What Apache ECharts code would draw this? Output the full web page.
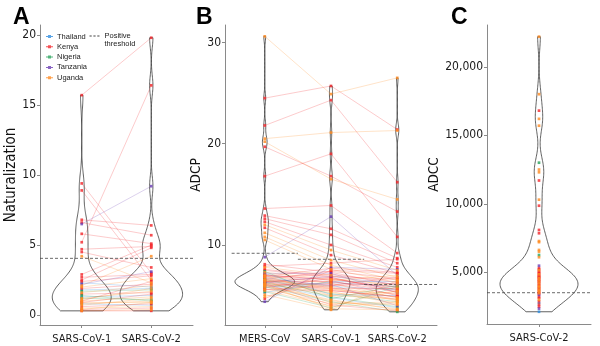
<!DOCTYPE html>
<html>
<head>
<meta charset="utf-8">
<script src="https://cdn.jsdelivr.net/npm/echarts@6/dist/echarts.min.js"></script>
<style>
html, body { margin: 0; padding: 0; background: #fff; }
#main { width: 600px; height: 346px; }
</style>
</head>
<body>
<div id="main"></div>
<script>
const countries = ['Thailand', 'Kenya', 'Nigeria', 'Tanzania', 'Uganda'];
const countryColors = ['#2f8de0', '#f2262a', '#27a25a', '#6b3db4', '#ff8a1f'];
const codeIdx = {T: 0, K: 1, N: 2, Z: 3, U: 4};

// panel A: neutralization, paired SARS-CoV-1 / SARS-CoV-2
const neutCats = ['SARS-CoV-1', 'SARS-CoV-2'];
const neutTicks = [0, 5, 10, 15, 20];
const neutThreshold = 4.05;
const neutCountry = ['K','K','Z','K','K','K','K','K','K','K','U','K','K','U','Z','T','K','U','K','T','N','U','K','T','U','N','K','U','U','K','U','T','U','K','U','K','U','U','K','U','K','N'];
const neutCov1 = [15.7,5.2,6.5,9.4,8.9,6.8,6.6,5.8,4.7,4.5,4.2,2.9,2.5,2.1,2.2,2.3,2.4,2.0,1.9,1.8,1.7,1.6,1.5,1.3,1.2,1.2,1.0,1.0,0.9,0.9,0.8,0.8,0.7,0.6,0.5,0.4,0.4,0.3,0.3,1.1,2.7,1.4];
const neutCov2 = [19.8,16.4,9.2,3.0,2.5,6.4,5.7,5.1,4.9,3.4,2.3,5.0,4.8,4.2,3.1,2.0,2.8,2.6,2.2,1.9,1.8,2.1,1.6,1.4,1.7,1.1,2.4,1.3,0.9,1.5,1.0,0.7,1.2,0.8,0.6,0.5,0.9,0.4,0.3,1.9,2.9,1.0];

// panel B: ADCP, MERS / SARS-1 / SARS-2
const adcpCats = ['MERS-CoV', 'SARS-CoV-1', 'SARS-CoV-2'];
const adcpTicks = [10, 20, 30];
const adcpThreshold = [9.18, 8.59, 6.1];
const adcpCountry = ['U','K','K','U','U','K','K','K','Z','K','K','K','U','K','U','U','U',
  'K','U','K','K','U','Z','K','K','U','T','K','K','N','U','K','K','U','Z','K','U','T','K','U','N','K','U','K','U','N','T','U','U','K','Z','K',
  'U','K','U','K','N','U','K','T','U','K','U','K','T','K','U','N','U','K','Z','U'];
const adcpMers = [30.6,24.5,21.8,20.5,20.2,19.7,16.8,13.6,8.8,12.9,12.6,12.3,12.0,11.7,11.2,10.8,10.5,
  8.1,7.8,7.6,7.5,7.3,7.2,7.1,7.0,6.9,6.8,6.7,6.6,6.6,6.5,6.4,6.4,6.3,6.3,6.2,6.2,6.1,6.0,6.0,5.9,5.8,5.7,5.6,5.5,5.4,5.3,5.1,4.9,4.7,4.4,7.9,
  6.5,6.8,6.1,7.0,6.3,5.9,6.6,7.2,6.0,6.4,6.7,6.2,5.8,6.9,6.5,7.4,6.1,5.6,6.3,7.0];
const adcpSars1 = [24.9,25.7,24.3,21.1,16.5,16.8,19.0,13.9,12.8,11.6,11.0,10.0,9.5,9.0,8.5,8.0,7.6,
  7.3,7.0,6.9,6.8,6.6,7.2,6.5,6.3,6.2,5.9,6.0,5.8,5.2,5.6,6.4,5.5,5.4,6.1,5.7,5.0,4.8,6.2,4.6,4.4,6.7,4.2,6.0,4.0,3.8,6.4,3.6,6.5,7.5,7.8,8.2,
  4.3,7.1,5.3,6.6,4.9,3.9,7.4,5.1,4.5,6.8,5.7,4.1,6.3,7.7,5.9,4.7,3.7,5.5,6.9,5.0];
const adcpSars2 = [26.5,21.4,16.2,21.3,14.5,13.3,10.8,9.2,7.0,8.7,8.2,7.8,7.5,7.2,6.8,6.5,6.3,
  6.0,5.8,6.6,5.5,6.1,5.3,5.0,5.9,4.8,5.6,6.8,4.6,4.4,5.2,5.4,4.9,4.2,4.0,5.7,4.7,3.8,5.1,3.6,3.4,5.6,4.4,6.2,5.5,5.9,6.4,6.5,7.0,7.2,7.6,8.6,
  4.1,6.3,4.6,5.8,3.9,4.3,6.7,5.0,3.7,5.3,4.5,3.5,5.9,7.3,4.8,6.0,3.6,4.9,6.1,5.4];

// panel C: ADCC, SARS-CoV-2 only
const adccCats = ['SARS-CoV-2'];
const adccTicks = [5000, 10000, 15000, 20000];
const adccThreshold = 3510;
const adccCountry = ['U','U','K','U','U','N','U','U','K','U','K','K','K','U','U','U','U','N','U',
  'Z','K','K','U','K','K','K','U','K','K','K','K','U','K','K','U','K','K','U','K','K','U','K','U','K','K','U','U','K','K','U','K','Z','K','K','U','K','T','K','K','Z','T'];
const adccValues = [22200,18000,16800,16200,15700,13000,12500,12300,11700,10300,9860,8090,7850,7280,7200,6630,6510,6260,6100,
  5480,5300,5200,5150,5040,4980,4900,4850,4780,4700,4680,4600,4580,4500,4450,4400,4330,4300,4200,4150,4080,4000,
  3950,3900,3830,3750,3710,3650,3590,3500,3470,3400,3350,3200,3120,3000,2880,2760,2640,2490,2350,2120];

const numFont = "'DejaVu Sans Condensed', 'Liberation Sans', sans-serif";

function density(vals) {
  const n = vals.length;
  const s = [...vals].sort((a, b) => a - b);
  const mean = s.reduce((a, b) => a + b, 0) / n;
  const sd = Math.sqrt(s.reduce((a, b) => a + (b - mean) ** 2, 0) / (n - 1));
  const q = p => { const h = (n - 1) * p, l = Math.floor(h); return s[l] + (h - l) * ((s[l + 1] ?? s[l]) - s[l]); };
  const bw = 0.9 * Math.min(sd, (q(0.75) - q(0.25)) / 1.34) * Math.pow(n, -0.2);
  const pts = [];
  for (let i = 0; i <= 200; i++) {
    const y = s[0] + (s[n - 1] - s[0]) * i / 200;
    let d = 0;
    for (const v of s) d += Math.exp(-0.5 * ((y - v) / bw) ** 2);
    pts.push([y, d / (n * bw * Math.sqrt(2 * Math.PI))]);
  }
  return pts;
}

function violinSeries(gi, x, pts, maxD) {
  return {
    type: 'custom', xAxisIndex: gi, yAxisIndex: gi, silent: true, z: 1,
    data: [[x, pts[0][0]]],
    renderItem: (params, api) => {
      const left = pts.map(p => api.coord([x - 0.45 * p[1] / maxD, p[0]]));
      const right = pts.map(p => api.coord([x + 0.45 * p[1] / maxD, p[0]])).reverse();
      return {type: 'polygon', shape: {points: left.concat(right)},
        style: {fill: 'none', stroke: '#3a3a3a', lineWidth: 0.8}};
    }
  };
}

function panelSeries(gi, groups, codes) {
  let out = [];
  let dens = groups.map(g => density(g));
  let maxD = Math.max(...dens.map(d => Math.max(...d.map(p => p[1]))));
  dens.forEach((d, i) => out.push(violinSeries(gi, i + 1, d, maxD)));
  if (groups.length > 1) {
    out.push({
      type: 'lines', coordinateSystem: 'cartesian2d', xAxisIndex: gi, yAxisIndex: gi,
      polyline: true, silent: true, z: 2,
      data: codes.map((c, k) => ({
        coords: groups.map((g, i) => [i + 1, g[k]]),
        lineStyle: {color: countryColors[codeIdx[c]], width: 0.8, opacity: 0.3}
      }))
    });
  }
  countries.forEach((name, ci) => {
    let pts = [];
    codes.forEach((c, k) => {
      if (codeIdx[c] === ci) groups.forEach((g, i) => pts.push([i + 1, g[k]]));
    });
    out.push({type: 'scatter', name: name, xAxisIndex: gi, yAxisIndex: gi, z: 3,
      symbol: 'rect', symbolSize: 2.7, itemStyle: {color: countryColors[ci]},
      silent: true, data: pts});
  });
  return out;
}

function thresholdSeries(gi, x0, x1, y) {
  return {type: 'line', name: 'Positive threshold', xAxisIndex: gi, yAxisIndex: gi,
    symbol: 'none', silent: true, z: 2, color: '#444',
    lineStyle: {color: '#444', width: 0.8, type: [3, 2]},
    data: [[x0, y], [x1, y]]};
}

function xAxisFor(gi, cats) {
  return {type: 'value', gridIndex: gi, min: 0.4, max: cats.length + 0.6,
    splitLine: {show: false},
    axisLine: {show: true, onZero: false, lineStyle: {color: '#8a8a8a', width: 1}},
    axisTick: {show: true, length: 3, customValues: cats.map((c, i) => i + 1), lineStyle: {color: '#8a8a8a'}},
    axisLabel: {customValues: cats.map((c, i) => i + 1), formatter: v => cats[Math.round(v) - 1],
      showMinLabel: true, showMaxLabel: true, hideOverlap: false,
      margin: 9, fontSize: 11, color: '#1a1a1a', fontFamily: numFont}};
}

function yAxisFor(gi, min, max, ticks, name, nameGap, nameSize, fmt) {
  return {type: 'value', gridIndex: gi, min: min, max: max,
    name: name, nameLocation: 'middle', nameGap: nameGap,
    nameTextStyle: {fontSize: nameSize, color: '#111', fontFamily: numFont},
    splitLine: {show: false},
    axisLine: {show: true, onZero: false, lineStyle: {color: '#8a8a8a', width: 1}},
    axisTick: {show: true, length: 3, customValues: ticks, lineStyle: {color: '#8a8a8a'}},
    axisLabel: {customValues: ticks, formatter: fmt, margin: 4, fontSize: 12,
      showMinLabel: true, showMaxLabel: true,
      color: '#1a1a1a', fontFamily: numFont}};
}

const pointIcon = 'path://M0,0h0.01v0.01h-0.01zM7,7h0.01v0.01h-0.01zM0,3H2V2H5V3H7V4H5V5H2V4H0Z';
const dashIcon = 'path://M0,0h0.01v0.01h-0.01zM10,16h0.01v0.01h-0.01zM0,3.5h2.2v1h-2.2zM3.9,3.5h2.2v1h-2.2zM7.8,3.5h2.2v1h-2.2z';

let series = [].concat(
  panelSeries(0, [neutCov1, neutCov2], neutCountry),
  [thresholdSeries(0, 0.4, 2.6, neutThreshold)],
  panelSeries(1, [adcpMers, adcpSars1, adcpSars2], adcpCountry),
  [thresholdSeries(1, 0.5, 1.5, adcpThreshold[0]),
   thresholdSeries(1, 1.5, 2.5, adcpThreshold[1]),
   thresholdSeries(1, 2.5, 3.6, adcpThreshold[2])],
  panelSeries(2, [adccValues], adccCountry),
  [thresholdSeries(2, 0.4, 1.6, adccThreshold)]
);

let option = {
  animation: false,
  backgroundColor: '#fff',
  title: [
    {text: 'A', left: 8, top: 1, textStyle: {fontSize: 23, fontWeight: 'bold', color: '#000', fontFamily: 'Liberation Sans'}},
    {text: 'B', left: 191, top: 1, textStyle: {fontSize: 23, fontWeight: 'bold', color: '#000', fontFamily: 'Liberation Sans'}},
    {text: 'C', left: 446, top: 1, textStyle: {fontSize: 23, fontWeight: 'bold', color: '#000', fontFamily: 'Liberation Sans'}}
  ],
  legend: [
    {data: countries.map(c => ({name: c, icon: pointIcon})), orient: 'vertical',
      left: 46, top: 32.5, padding: 0, itemWidth: 7, itemHeight: 7, itemGap: 2.3,
      selectedMode: false,
      textStyle: {fontSize: 7.5, color: '#222', fontFamily: 'Liberation Sans', padding: [0, 0, 0, -1]}},
    {data: [{name: 'Positive threshold', icon: dashIcon}], orient: 'vertical',
      left: 89.5, top: 32, padding: 0, itemWidth: 10, itemHeight: 16, selectedMode: false,
      formatter: () => 'Positive\nthreshold',
      textStyle: {fontSize: 7.5, lineHeight: 8, color: '#222', fontFamily: 'Liberation Sans'}}
  ],
  grid: [
    {left: 40, top: 25, width: 153, height: 300},
    {left: 225, top: 25, width: 212, height: 300},
    {left: 487, top: 25, width: 104, height: 299}
  ],
  xAxis: [xAxisFor(0, neutCats), xAxisFor(1, adcpCats), xAxisFor(2, adccCats)],
  yAxis: [
    yAxisFor(0, -0.71, 20.71, neutTicks, 'Naturalization', 21, 15, v => String(v)),
    yAxisFor(1, 2.1, 31.72, adcpTicks, 'ADCP', 13, 13.5, v => String(v)),
    yAxisFor(2, 1226, 23051, adccTicks, 'ADCC', 42, 13.5, v => v.toLocaleString('en-US'))
  ],
  series: series
};

let chart = echarts.init(document.getElementById('main'), null, {renderer: 'canvas'});
chart.setOption(option);
</script>
</body>
</html>
